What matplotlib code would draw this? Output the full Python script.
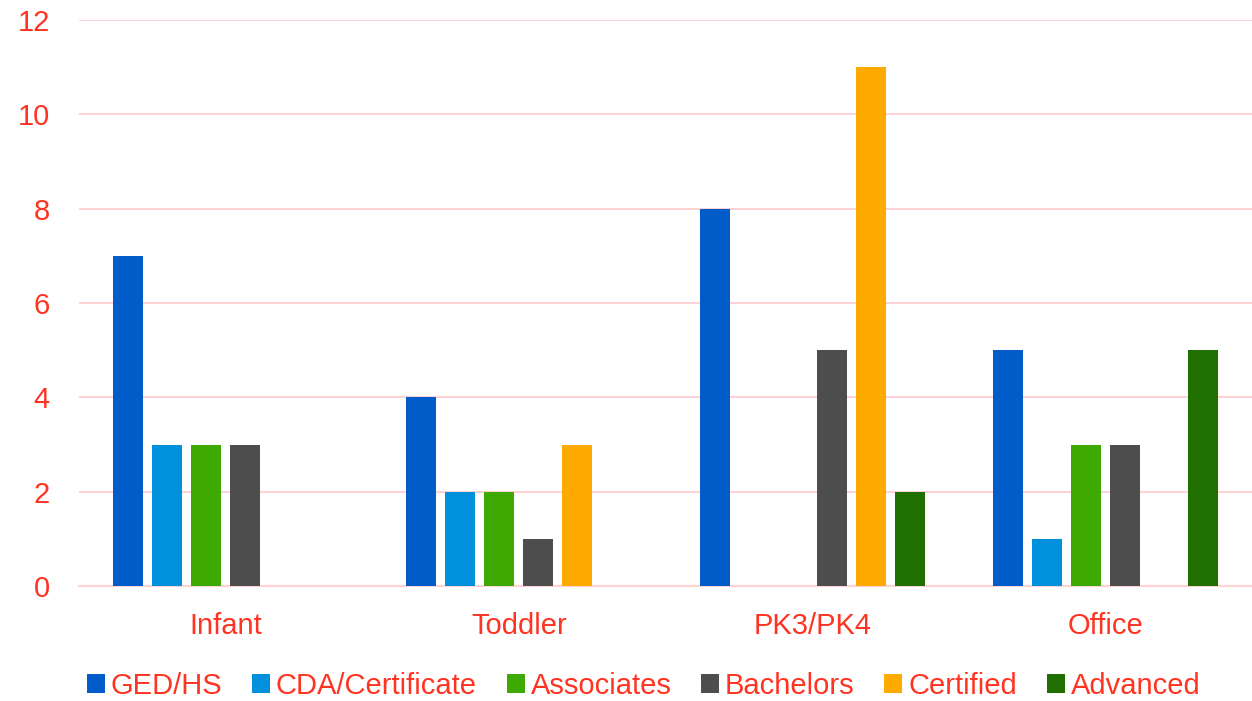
import numpy as np
import matplotlib.pyplot as plt

categories = ['Infant', 'Toddler', 'PK3/PK4', 'Office']
series_names = ['GED/HS', 'CDA/Certificate', 'Associates', 'Bachelors', 'Certified', 'Advanced']
ged = [7, 4, 8, 5]
cda = [3, 2, 0, 1]
associates = [3, 2, 0, 3]
bachelors = [3, 1, 5, 3]
certified = [0, 3, 11, 0]
advanced = [0, 0, 2, 5]
colors = ['#005CC8', '#0090DC', '#3EA900', '#4D4D4D', '#FFAA00', '#1F7000']

txt = '#FF3322'
plt.rcParams['font.family'] = ['Liberation Sans', 'DejaVu Sans']

fig = plt.figure(figsize=(12.52, 7.01), dpi=100)
ax = fig.add_axes([79 / 1252, 1 - 586 / 701, 1173 / 1252, 566 / 701])

x = np.arange(len(categories))
step = 0.133
width = 0.102
all_vals = [ged, cda, associates, bachelors, certified, advanced]
for i, (name, vals) in enumerate(zip(series_names, all_vals)):
    ax.bar(x + (i - 2.5) * step, vals, width, color=colors[i], label=name, zorder=3)

ax.set_xlim(-0.5, 3.5)
ax.set_ylim(0, 12)
ax.set_yticks(range(0, 13, 2))
ax.set_xticks(x)
ax.set_xticklabels(categories)
ax.grid(axis='y', color='#FFD3D3', linewidth=1.5, zorder=0)
for s in ['top', 'right', 'left']:
    ax.spines[s].set_visible(False)
ax.spines['bottom'].set_color('#FFD3D3')
ax.spines['bottom'].set_linewidth(1.5)
ax.tick_params(axis='both', length=0, labelsize=21, labelcolor=txt)
ax.tick_params(axis='y', pad=21)
ax.tick_params(axis='x', pad=19)

leg = fig.legend(loc='center', bbox_to_anchor=(0.514, 1 - 686 / 701), ncol=6, frameon=False,
                 fontsize=21, handlelength=0.62, handleheight=0.62, handletextpad=0.2,
                 columnspacing=1.02)
for t in leg.get_texts():
    t.set_color(txt)

fig.savefig('out.png', dpi=100)
